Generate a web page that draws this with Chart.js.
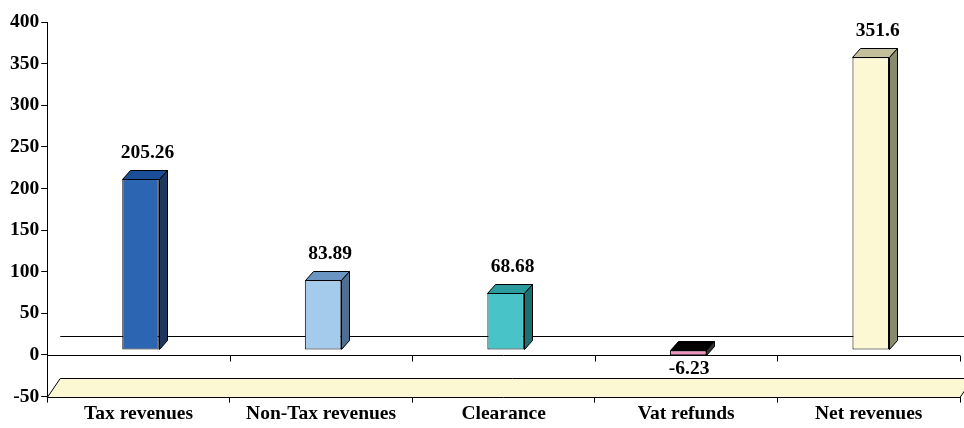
<!DOCTYPE html>
<html>
<head>
<meta charset="utf-8">
<script src="https://cdn.jsdelivr.net/npm/chart.js@4"></script>
<style>
  html, body { margin: 0; padding: 0; background: #fff; }
  #grafico { display: block; }
</style>
</head>
<body>
<canvas id="grafico" width="964" height="428"></canvas>
<script>
const categorias = ["Tax revenues", "Non-Tax revenues", "Clearance", "Vat refunds", "Net revenues"];
const valores = [205.26, 83.89, 68.68, -6.23, 351.6];
const rotulosValores = ["205.26", "83.89", "68.68", "-6.23", "351.6"];
const ticksY = [-50, 0, 50, 100, 150, 200, 250, 300, 350, 400];

const coresFrente = ["#2C66B2", "#A4CAEC", "#48C4C8", "#F090C0", "#FCF8D4"];
const coresTopo = ["#1A4F98", "#6A94C2", "#2A9C9E", "#000000", "#C3BF9B"];
const coresLado = ["#1F365F", "#4E6F91", "#1D6F70", "#333333", "#8A8A6C"];

const fonte = { family: "'Liberation Serif', 'Times New Roman', serif", size: 19.5, weight: "bold" };

// faces laterais e de topo, piso e linha de fundo
const efeito3d = {
    id: "efeito3d",
    beforeDatasetsDraw(chart) {
        const ctx = chart.ctx;
        const area = chart.chartArea;
        const y = chart.scales.y;
        const y0 = Math.round(y.getPixelForValue(0)) + 0.5;
        const yBase = Math.round(y.getPixelForValue(-50)) + 0.5;
        const dx = 13, dy = 19;

        ctx.save();
        // piso
        ctx.beginPath();
        ctx.moveTo(area.left, yBase);
        ctx.lineTo(area.left + dx, yBase - dy);
        ctx.lineTo(area.right + dx, yBase - dy);
        ctx.lineTo(area.right, yBase);
        ctx.closePath();
        ctx.fillStyle = "#FBF8D3";
        ctx.fill();
        ctx.strokeStyle = "#000";
        ctx.lineWidth = 1;
        ctx.stroke();

        // linha do zero (frente) com marcas
        ctx.beginPath();
        ctx.moveTo(area.left, y0);
        ctx.lineTo(area.right, y0);
        const n = categorias.length;
        for (let i = 1; i <= n; i++) {
            const xb = Math.round(area.left + (area.right - area.left) * i / n) + 0.5;
            ctx.moveTo(xb, y0);
            ctx.lineTo(xb, y0 + 6);
        }
        // linha do zero (fundo)
        ctx.moveTo(area.left + dx, y0 - dy);
        ctx.lineTo(area.right + dx, y0 - dy);
        ctx.stroke();
        ctx.restore();

        ctx.save();
        ctx.translate(2, -5);
    },
    afterDatasetsDraw(chart) {
        const ctx = chart.ctx;
        const meta = chart.getDatasetMeta(0);
        const dx = 8, dy = 9;

        meta.data.forEach((barra, i) => {
            const p = barra.getProps(["x", "y", "base", "width"], true);
            const esq = Math.round(p.x - p.width / 2) + 0.5;
            const dir = Math.round(p.x + p.width / 2) + 0.5;
            const topo = Math.round(Math.min(p.y, p.base)) + 0.5;
            const fundo = Math.round(Math.max(p.y, p.base)) + 0.5;

            ctx.strokeStyle = "#000";
            ctx.lineWidth = 1;

            ctx.beginPath();
            ctx.moveTo(esq, topo);
            ctx.lineTo(esq + dx, topo - dy);
            ctx.lineTo(dir + dx, topo - dy);
            ctx.lineTo(dir, topo);
            ctx.closePath();
            ctx.fillStyle = coresTopo[i];
            ctx.fill();
            ctx.stroke();

            ctx.beginPath();
            ctx.moveTo(dir, topo);
            ctx.lineTo(dir + dx, topo - dy);
            ctx.lineTo(dir + dx, fundo - dy);
            ctx.lineTo(dir, fundo);
            ctx.closePath();
            ctx.fillStyle = coresLado[i];
            ctx.fill();
            ctx.stroke();

            ctx.fillStyle = "#000";
            ctx.font = `${fonte.weight} ${fonte.size}px ${fonte.family}`;
            ctx.textAlign = "center";
            ctx.textBaseline = "alphabetic";
            if (valores[i] >= 0) {
                ctx.fillText(rotulosValores[i], p.x + 7, p.y - 21);
            } else {
                ctx.fillText(rotulosValores[i], p.x + 1, p.y + 19);
            }
        });
        ctx.restore();
    }
};

new Chart(document.getElementById("grafico"), {
    type: "bar",
    data: {
        labels: categorias,
        datasets: [{
            data: valores,
            backgroundColor: coresFrente,
            borderColor: "#000",
            borderWidth: 1,
            borderSkipped: false,
            categoryPercentage: 1,
            barPercentage: 0.2
        }]
    },
    options: {
        responsive: false,
        animation: false,
        devicePixelRatio: 1,
        layout: { padding: { top: 22, right: 4, left: 8, bottom: 2 } },
        plugins: {
            legend: { display: false },
            tooltip: { enabled: false }
        },
        scales: {
            x: {
                grid: { drawOnChartArea: false, color: "#000", tickLength: 6, offset: true },
                border: { color: "#000", width: 1 },
                ticks: { color: "#000", font: fonte, padding: 0 }
            },
            y: {
                min: -50,
                max: 400,
                afterBuildTicks(escala) {
                    escala.ticks = ticksY.map(v => ({ value: v }));
                },
                grid: { drawOnChartArea: false, color: "#000", tickLength: 6 },
                border: { color: "#000", width: 1 },
                ticks: { color: "#000", font: fonte, padding: 2 }
            }
        }
    },
    plugins: [efeito3d]
});
</script>
</body>
</html>
